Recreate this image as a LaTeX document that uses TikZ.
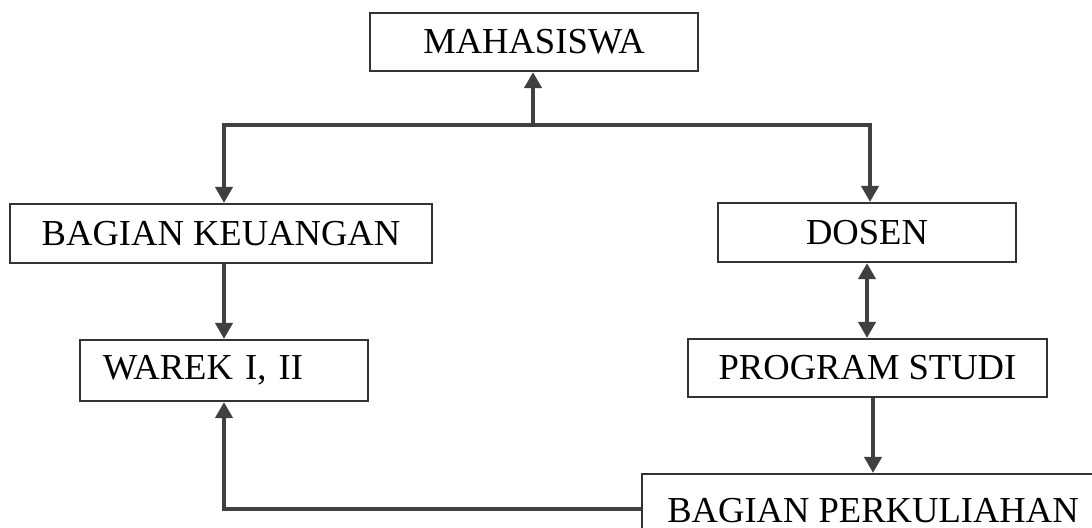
\documentclass[tikz,border=0pt]{standalone}
\usepackage{fontspec}
\setmainfont{Liberation Serif}
\usetikzlibrary{arrows.meta}
\newcommand{\lw}{1.4pt}
\newcommand{\tip}{Triangle[length=1.6mm,width=1.7mm]}
\tikzset{
  box/.style={draw=black!80, line width=0.6pt, fill=white, inner sep=0pt,
    font=\fontsize{10.4}{12}\selectfont},
  conn/.style={draw=black!75, line width=\lw},
  arr/.style={conn, -{\tip}},
  dblarr/.style={conn, {\tip}-{\tip}},
}

\begin{document}
\begin{tikzpicture}[x=0.01cm, y=-0.01cm]
        \useasboundingbox (0,0) rectangle (1092,527);
        % boxes
        \node[box, minimum width=3.28cm, minimum height=0.58cm] (mhs) at (534,42) {MAHASISWA};
        \node[box, minimum width=4.22cm, minimum height=0.59cm] (keu) at (221,233.5) {BAGIAN KEUANGAN};
        \node[box, minimum width=2.97cm, minimum height=0.59cm] (dosen) at (867,232.5) {DOSEN};
        \node[box, text width=2.42cm, align=left, inner xsep=0.23cm, minimum height=0.61cm] (warek) at (224,370.5) {WAREK I, II};
        \node[box, minimum width=3.59cm, minimum height=0.58cm] (prodi) at (867.5,368) {PROGRAM STUDI};
        \node[box, minimum width=4.62cm, minimum height=0.74cm] (kuliah) at (873,511) {BAGIAN PERKULIAHAN};
        % connectors
        \coordinate (top) at (533,125);
        \draw[arr] (top) -- (top |- mhs.south);
        \draw[arr] (top) -| ([xshift=0.03cm]keu.north);
        \draw[arr] (top) -| ([xshift=0.03cm]dosen.north);
        \draw[arr] (keu.south -| warek.north) -- (warek.north);
        \draw[dblarr] (dosen.south) -- (dosen.south |- prodi.north);
        \draw[arr] (kuliah.north |- prodi.south) -- (kuliah.north);
        \draw[arr] ([yshift=0.02cm]kuliah.west) -| (warek.south);
    \end{tikzpicture}
\end{document}
